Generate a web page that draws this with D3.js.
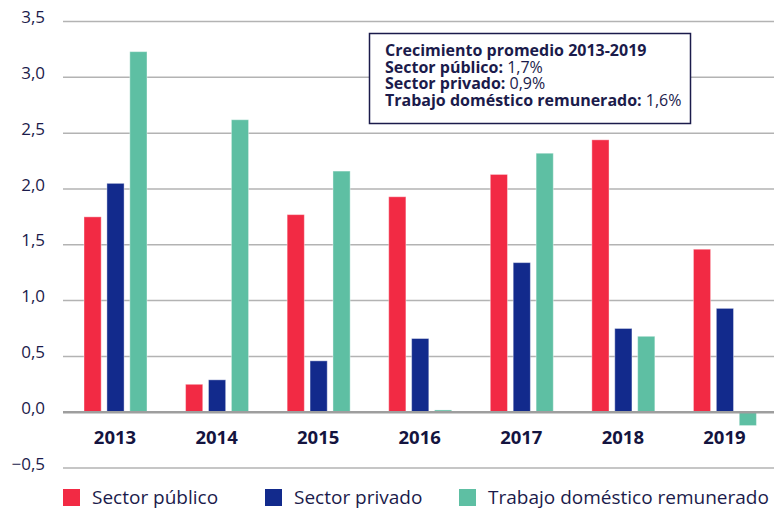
<!DOCTYPE html>
<html lang="es">
<head>
<meta charset="utf-8">
<script src="https://d3js.org/d3.v7.min.js"></script>
<style>
  body { margin: 0; background: #fff; font-family: "Open Sans", "Noto Sans", sans-serif; }
  .grid line { stroke: #b3b3b3; stroke-width: 1.5px; }
  .tick-label { fill: #1b1b4b; font-size: 17px; }
  .year-label { fill: #14143f; font-size: 18.5px; font-weight: 700; }
  .legend text { fill: #1b1b4b; font-size: 19px; }
  .note text { fill: #1b1b4b; font-size: 16px; }
</style>
</head>
<body>
<div id="chart"></div>
<script>
// data
const years = ['2013', '2014', '2015', '2016', '2017', '2018', '2019'];
const seriesNames = ['Sector público', 'Sector privado', 'Trabajo doméstico remunerado'];
const publico = [1.75, 0.25, 1.77, 1.93, 2.13, 2.44, 1.46];
const privado = [2.05, 0.29, 0.46, 0.66, 1.34, 0.75, 0.93];
const domestico = [3.23, 2.62, 2.16, 0.02, 2.32, 0.68, -0.12];
const yTicks = [-0.5, 0, 0.5, 1.0, 1.5, 2.0, 2.5, 3.0, 3.5];
const colors = ['#f22a44', '#122a8c', '#5ebfa3'];
const noteTitle = 'Crecimiento promedio 2013-2019';
const noteLines = [['Sector público:', '1,7%'], ['Sector privado:', '0,9%'], ['Trabajo doméstico remunerado:', '1,6%']];

const width = 774, height = 509;
const svg = d3.select('#chart').append('svg')
  .attr('width', width).attr('height', height);

const x0 = d3.scaleBand().domain(years).range([63, 774]);
const x1 = d3.scaleBand().domain([0, 1, 2]).range([21, 84]).paddingInner(0.25);
const y = d3.scaleLinear().domain([-0.5, 3.5]).range([468, 21.5]);

const fmt = d => d3.format('.1f')(d).replace('.', ',');

// gridlines
svg.append('g').attr('class', 'grid')
  .selectAll('line').data(yTicks.filter(d => d !== 0)).join('line')
  .attr('x1', 63).attr('x2', width)
  .attr('y1', d => y(d)).attr('y2', d => y(d));

svg.selectAll('.tick-label').data(yTicks).join('text')
  .attr('class', 'tick-label')
  .attr('x', 45).attr('y', d => y(d)).attr('dy', '0.1em')
  .attr('text-anchor', 'end')
  .text(fmt);

// bars
const series = [publico, privado, domestico];
const groups = svg.append('g').selectAll('g').data(years).join('g')
  .attr('transform', d => `translate(${x0(d)},0)`);

groups.selectAll('rect')
  .data((d, i) => series.map((s, k) => ({ k, v: s[i] })))
  .join('rect')
  .attr('x', d => x1(d.k))
  .attr('width', x1.bandwidth())
  .attr('y', d => y(Math.max(0, d.v)))
  .attr('height', d => Math.abs(y(d.v) - y(0)))
  .attr('fill', d => colors[d.k])
  .attr('stroke', '#fff').attr('stroke-opacity', 0.4).attr('stroke-width', 1);

// zero line
svg.append('line')
  .attr('x1', 63).attr('x2', width)
  .attr('y1', y(0)).attr('y2', y(0))
  .attr('stroke', '#9e9e9e').attr('stroke-width', 2.5);

// year labels
svg.selectAll('.year-label').data(years).join('text')
  .attr('class', 'year-label')
  .attr('x', d => x0(d) + 52)
  .attr('y', 444)
  .attr('text-anchor', 'middle')
  .text(d => d);

// legend
const legendX = [63, 265, 459];
const legend = svg.append('g').attr('class', 'legend')
  .selectAll('g').data(seriesNames).join('g')
  .attr('transform', (d, i) => `translate(${legendX[i]},489)`);
legend.append('rect').attr('width', 17).attr('height', 17)
  .attr('fill', (d, i) => colors[i]);
legend.append('text').attr('x', 29).attr('y', 15).text(d => d);

// note box, one text block with tight lines
const note = svg.append('g').attr('class', 'note');
note.append('rect')
  .attr('x', 369.5).attr('y', 33.5).attr('width', 321).attr('height', 90)
  .attr('fill', '#fff').attr('stroke', '#1b1b4b').attr('stroke-width', 1.5);
const noteText = note.append('text').attr('x', 385).attr('y', 56);
noteText.append('tspan').attr('x', 385).style('font-weight', 700).text(noteTitle);
noteLines.forEach(l => {
  noteText.append('tspan').attr('x', 385).attr('dy', 16.6).style('font-weight', 700).text(l[0]);
  noteText.append('tspan').text(' ' + l[1]);
});
</script>
</body>
</html>
